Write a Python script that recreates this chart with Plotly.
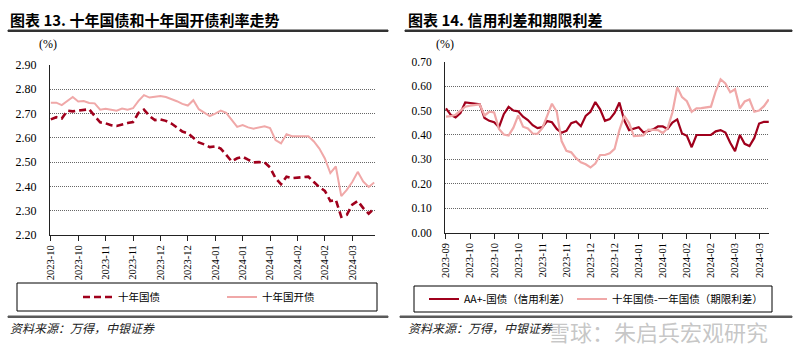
import plotly.graph_objects as go

# ---------------- data ----------------
labels_left = ["2023-10", "2023-10", "2023-11", "2023-11", "2023-12", "2023-12",
               "2024-01", "2024-01", "2024-01", "2024-02", "2024-02", "2024-03"]
cgb10 = [2.676, 2.685, 2.680, 2.712, 2.709, 2.712, 2.716, 2.718, 2.690, 2.664,
         2.660, 2.652, 2.649, 2.656, 2.661, 2.665, 2.703, 2.716, 2.690, 2.673,
         2.676, 2.670, 2.659, 2.643, 2.626, 2.619, 2.600, 2.581, 2.573, 2.562,
         2.565, 2.556, 2.530, 2.503, 2.516, 2.522, 2.510, 2.499, 2.500, 2.499,
         2.478, 2.434, 2.409, 2.440, 2.434, 2.436, 2.438, 2.440, 2.418, 2.397,
         2.382, 2.340, 2.345, 2.275, 2.283, 2.325, 2.340, 2.311, 2.288, 2.310]
cdb10 = [2.745, 2.745, 2.735, 2.752, 2.768, 2.750, 2.752, 2.744, 2.742, 2.716,
         2.720, 2.716, 2.712, 2.721, 2.716, 2.722, 2.752, 2.776, 2.766, 2.769,
         2.772, 2.768, 2.760, 2.751, 2.740, 2.733, 2.755, 2.718, 2.704, 2.690,
         2.700, 2.712, 2.703, 2.676, 2.645, 2.653, 2.643, 2.638, 2.642, 2.648,
         2.640, 2.591, 2.577, 2.615, 2.607, 2.607, 2.607, 2.607, 2.585, 2.556,
         2.515, 2.455, 2.482, 2.360, 2.386, 2.418, 2.460, 2.420, 2.398, 2.416]

labels_right = ["2023-09", "2023-10", "2023-10", "2023-10", "2023-11", "2023-11",
                "2023-12", "2023-12", "2024-01", "2024-01", "2024-02", "2024-02",
                "2024-03", "2024-03"]
credit_spread = [0.509, 0.482, 0.472, 0.490, 0.533, 0.530, 0.528, 0.526, 0.470, 0.458,
                 0.452, 0.432, 0.485, 0.515, 0.500, 0.497, 0.475, 0.461, 0.440, 0.428,
                 0.432, 0.457, 0.452, 0.425, 0.409, 0.417, 0.448, 0.455, 0.436, 0.478,
                 0.495, 0.535, 0.505, 0.458, 0.465, 0.490, 0.533, 0.460, 0.420, 0.425,
                 0.432, 0.410, 0.418, 0.423, 0.435, 0.435, 0.425, 0.451, 0.464, 0.406,
                 0.397, 0.350, 0.400, 0.400, 0.400, 0.400, 0.415, 0.420, 0.410, 0.368,
                 0.334, 0.400, 0.364, 0.355, 0.388, 0.447, 0.454, 0.454]
term_spread = [0.475, 0.477, 0.483, 0.500, 0.516, 0.520, 0.523, 0.525, 0.480, 0.495,
               0.492, 0.425, 0.402, 0.398, 0.430, 0.480, 0.434, 0.427, 0.406, 0.405,
               0.428, 0.480, 0.528, 0.495, 0.375, 0.335, 0.329, 0.305, 0.288, 0.280,
               0.267, 0.283, 0.318, 0.318, 0.325, 0.343, 0.420, 0.478, 0.450, 0.395,
               0.398, 0.398, 0.422, 0.420, 0.420, 0.408, 0.428, 0.492, 0.595, 0.555,
               0.538, 0.495, 0.509, 0.510, 0.513, 0.516, 0.580, 0.628, 0.611, 0.575,
               0.587, 0.509, 0.537, 0.545, 0.495, 0.500, 0.518, 0.546]

STEP = 5  # observations between labelled ticks

DARK_RED = "#A0001C"
PINK = "#F0A8A8"
SERIF = "Liberation Serif, Times New Roman, serif"
CJK = "Noto Sans CJK SC"

W, H = 800, 360
def fx(x):
    return x / W
def fy(y):
    return 1 - y / H

fig = go.Figure()

xl = list(range(len(cgb10)))
xr = list(range(len(credit_spread)))

fig.add_trace(go.Scatter(x=xl, y=cgb10, mode="lines", name="十年国债",
                         line=dict(color=DARK_RED, width=2.6, dash="7px,4px"),
                         xaxis="x", yaxis="y", legend="legend"))
fig.add_trace(go.Scatter(x=xl, y=cdb10, mode="lines", name="十年国开债",
                         line=dict(color=PINK, width=2),
                         xaxis="x", yaxis="y", legend="legend2"))
fig.add_trace(go.Scatter(x=xr, y=credit_spread, mode="lines", name="AA+-国债（信用利差）",
                         line=dict(color=DARK_RED, width=2.2),
                         xaxis="x2", yaxis="y2", legend="legend3"))
fig.add_trace(go.Scatter(x=xr, y=term_spread, mode="lines", name="十年国债-一年国债（期限利差）",
                         line=dict(color=PINK, width=2.2),
                         xaxis="x2", yaxis="y2", legend="legend4"))

grid = dict(showgrid=True, gridcolor="#666666", griddash="1px,1px", gridwidth=1)
xcommon = dict(showline=True, linecolor="#222", linewidth=1, ticks="outside",
               ticklen=5, tickcolor="#222", tickangle=-90, automargin=False,
               tickfont=dict(family=SERIF, size=10.5, color="#000"),
               showgrid=False, zeroline=False, tickmode="array")
ycommon = dict(showline=True, linecolor="#222", linewidth=1, ticks="", automargin=False,
               zeroline=False, tickformat=".2f", dtick=0.1, ticklabelstandoff=10, **grid)

fig.update_layout(
    width=W, height=H, autosize=False, margin=dict(l=0, r=0, t=0, b=0, pad=0),
    paper_bgcolor="white", plot_bgcolor="white",
    xaxis=dict(domain=[fx(50), fx(375)], anchor="y", range=[-0.15, len(cgb10) - 0.85],
               tickvals=[i * STEP for i in range(len(labels_left))], ticktext=labels_left,
               **xcommon),
    yaxis=dict(domain=[fy(235), fy(65)], anchor="x", range=[2.2, 2.9],
               tickfont=dict(family=SERIF, size=12, color="#000"), **ycommon),
    xaxis2=dict(domain=[fx(445), fx(769)], anchor="y2", range=[-0.2, len(credit_spread) - 0.95],
                tickvals=[i * STEP for i in range(len(labels_right))], ticktext=labels_right,
                **xcommon),
    yaxis2=dict(domain=[fy(232.7), fy(61.7)], anchor="x2", range=[0, 0.7],
                tickfont=dict(family=SERIF, size=11.5, color="#000"), **ycommon),
    showlegend=True,
)

leg = dict(orientation="h", xanchor="left", yanchor="middle", bgcolor="rgba(0,0,0,0)",
           borderwidth=0, font=dict(family=CJK, size=10.5, color="#000"),
           itemwidth=30, tracegroupgap=0)
fig.update_layout(
    legend=dict(x=fx(78), y=fy(297), **leg),
    legend2=dict(x=fx(222), y=fy(297), **leg),
    legend3=dict(x=fx(424), y=fy(299), **leg),
    legend4=dict(x=fx(572), y=fy(299), **leg),
)

shapes = []
def band(x0, x1, y0, y1, color):
    # outlined thin rectangle used as a horizontal rule
    shapes.append(dict(type="rect", xref="paper", yref="paper",
                       x0=fx(x0), x1=fx(x1), y0=fy(y1), y1=fy(y0),
                       fillcolor=color, line=dict(color=color, width=1)))
# title underlines
band(8, 388, 30, 31.5, "#333333")
band(405, 792, 30, 31.5, "#333333")
# source separators
band(8, 388, 316, 317.5, "#5a5a5a")
band(400, 792, 316, 317.5, "#5a5a5a")
# legend boxes
shapes.append(dict(type="rect", xref="paper", yref="paper", x0=fx(17), x1=fx(377), y0=fy(311), y1=fy(283),
                   line=dict(color="#000", width=1)))
shapes.append(dict(type="rect", xref="paper", yref="paper", x0=fx(414), x1=fx(772), y0=fy(312), y1=fy(286),
                   line=dict(color="#000", width=1)))
fig.update_layout(shapes=shapes)

ann = []
def text(x, y, s, size, family=CJK, color="#000", anchor="left", **kw):
    ann.append(dict(xref="paper", yref="paper", x=fx(x), y=fy(y), text=s, showarrow=False,
                    xanchor=anchor, yanchor="middle", font=dict(family=family, size=size, color=color, **kw)))

text(8, 19, "<b>图表 13. 十年国债和十年国开债利率走势</b>", 15)
text(406, 19, "<b>图表 14. 信用利差和期限利差</b>", 15)
text(48, 44, "(%)", 12, family=SERIF, anchor="center")
text(445, 44, "(%)", 12, family=SERIF, anchor="center")
text(8, 327, "资料来源：万得，中银证券", 12, color="#222", style="italic")
text(406, 327, "资料来源：万得，中银证券", 12, color="#222", style="italic")
text(546, 331, "雪球：朱启兵宏观研究", 22, color="rgba(150,150,150,0.55)")
fig.update_layout(annotations=ann)

fig.write_html("out.html", config={"displayModeBar": False, "staticPlot": True},
               post_script="document.body.style.margin='0';document.body.style.overflow='hidden';")
